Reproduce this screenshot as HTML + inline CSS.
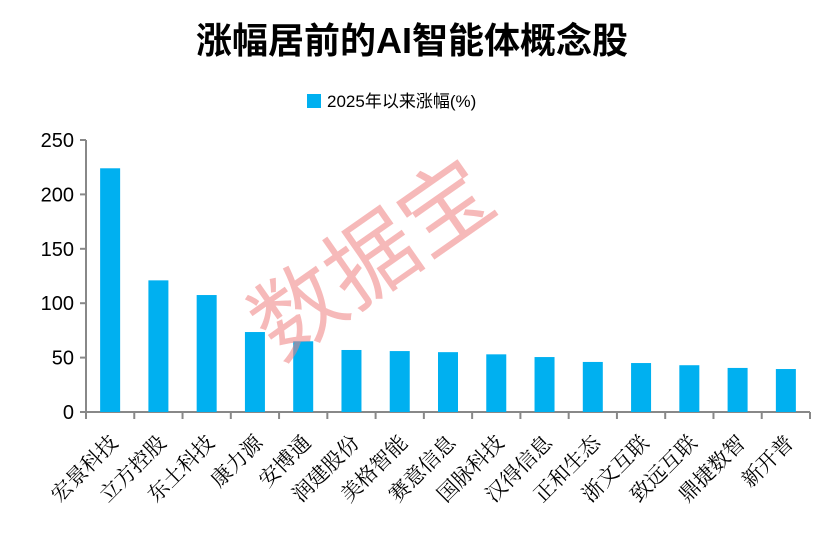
<!DOCTYPE html>
<html><head><meta charset="utf-8"><style>
body{margin:0;background:#fff;width:819px;height:531px;overflow:hidden}
svg text{font-family:"Liberation Sans","Noto Sans CJK SC",sans-serif}
svg text.cat{font-family:"Liberation Serif","Noto Serif CJK SC",serif}
svg text.wm{font-family:"Noto Sans CJK SC",sans-serif}
</style></head><body>
<svg width="819" height="531" xmlns="http://www.w3.org/2000/svg" id="chart">
<text x="412" y="53" text-anchor="middle" font-size="36" font-weight="bold" fill="#000">涨幅居前的AI智能体概念股</text>
<rect x="307" y="94" width="14" height="14" fill="#00b0f0"/>
<text x="327" y="107" font-size="17" fill="#000">2025年以来涨幅(%)</text>
<g id="grid"></g><g id="bars"></g><g id="labels"></g>
<text class="wm" x="390" y="285" text-anchor="middle" font-size="90" fill="#f08080" opacity="0.55" transform="rotate(-35 390 285)">数据宝</text>
</svg>
<script>
const categories=["宏景科技","立方控股","东土科技","康力源","安博通","润建股份","美格智能","赛意信息","国脉科技","汉得信息","正和生态","浙文互联","致远互联","鼎捷数智","新开普"];
const values=[224,121,107.5,73.5,65,57,56,55,53,50.5,46,45,43,40.5,39.5];
const ticks=[0,50,100,150,200,250];
const NS="http://www.w3.org/2000/svg";
const x0=86,x1=810,y0=412,ymax=250,ytop=140;
const bw=(x1-x0)/categories.length;
const y=v=>y0-(v/ymax)*(y0-ytop);
function mk(t,a,p){const e=document.createElementNS(NS,t);for(const k in a)e.setAttribute(k,a[k]);p.appendChild(e);return e;}
const g=document.getElementById('grid'),b=document.getElementById('bars'),l=document.getElementById('labels');
ticks.forEach(t=>{
 const tl=mk('line',{x1:x0-6,x2:x0,y1:y(t),y2:y(t),stroke:'#888','stroke-width':2},g);
 
 
 const tx=mk('text',{x:x0-12,y:y(t)+7,'text-anchor':'end','font-size':20,fill:'#000'},g);
 tx.textContent=t;
 
 
});
const ya=mk('line',{x1:x0,x2:x0,y1:ytop,y2:y0,stroke:'#888','stroke-width':2},g);


const xa=mk('line',{x1:x0,x2:x1,y1:y0,y2:y0,stroke:'#888','stroke-width':2},g);


for(let i=0;i<=categories.length;i++){
 const t=mk('line',{x1:x0+i*bw,x2:x0+i*bw,y1:y0,y2:y0+7,stroke:'#888','stroke-width':2},g);
 
 
}
categories.forEach((c,i)=>{
 const cx=x0+bw*(i+0.5);
 const r=mk('rect',{x:cx-10,y:y(values[i]),width:20,height:y0-y(values[i]),fill:'#00b0f0'},b);
 
 
 const lx=cx+9,ly=y0+32;
 const t=mk('text',{class:'cat',x:lx,y:ly,'text-anchor':'end','font-size':21,fill:'#000',transform:`rotate(-45 ${lx} ${ly})`},l);
 t.textContent=c;
 
 
});
</script>
</body></html>
